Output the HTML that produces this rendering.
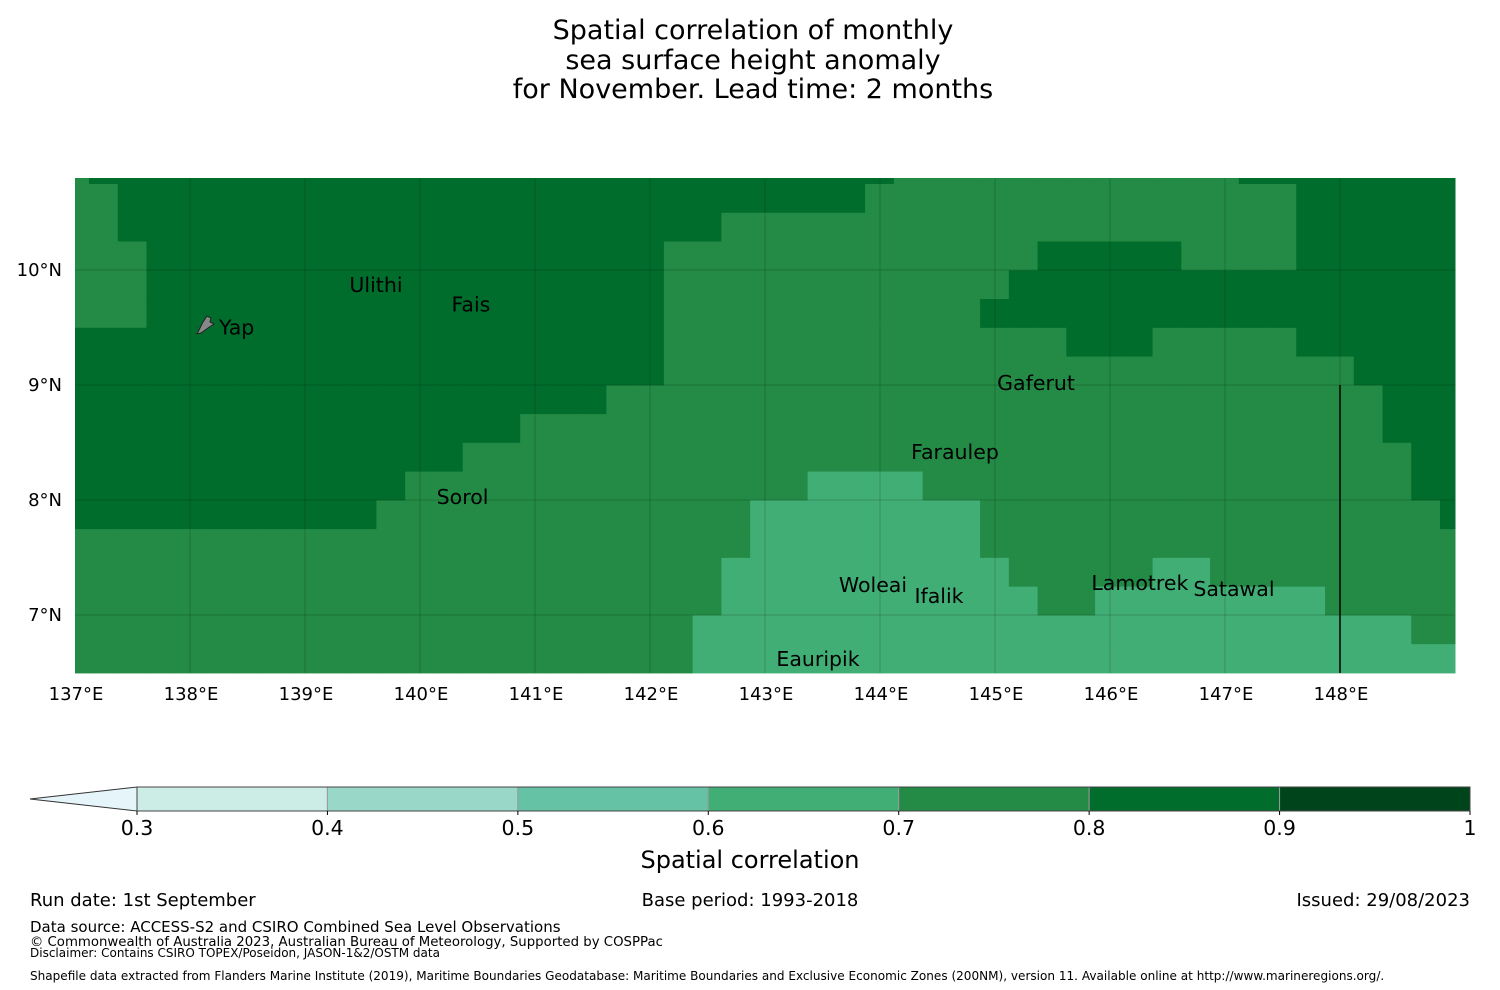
<!DOCTYPE html>
<html><head><meta charset="utf-8"><style>
html,body{margin:0;padding:0;background:#fff;}
svg{display:block;font-family:"DejaVu Sans","Liberation Sans",sans-serif;}
</style></head><body>
<svg id="chart" width="1500" height="990" viewBox="0 0 1500 990" xmlns="http://www.w3.org/2000/svg">
<g font-size="27" text-anchor="middle" fill="#000">
<text x="753" y="39">Spatial correlation of monthly</text>
<text x="753" y="69">sea surface height anomaly</text>
<text x="753" y="98">for November. Lead time: 2 months</text>
</g>
<g id="map"></g>
<g id="cbar"></g>
<text x="750" y="868" font-size="24" text-anchor="middle">Spatial correlation</text>
<g fill="#000">
<text x="30" y="906" font-size="18">Run date: 1st September</text>
<text x="750" y="906" font-size="18" text-anchor="middle">Base period: 1993-2018</text>
<text x="1470" y="906" font-size="18" text-anchor="end">Issued: 29/08/2023</text>
<text x="30" y="932" font-size="15">Data source: ACCESS-S2 and CSIRO Combined Sea Level Observations</text>
<text x="30" y="946" font-size="13.3">© Commonwealth of Australia 2023, Australian Bureau of Meteorology, Supported by COSPPac</text>
<text x="30" y="957" font-size="12">Disclaimer: Contains CSIRO TOPEX/Poseidon, JASON-1&amp;2/OSTM data</text>
<text x="30" y="980" font-size="12.05">Shapefile data extracted from Flanders Marine Institute (2019), Maritime Boundaries Geodatabase: Maritime Boundaries and Exclusive Economic Zones (200NM), version 11. Available online at http://www.marineregions.org/.</text>
</g>
</svg>
<script>
// run-length encoded rows: [value, count], top to bottom, 49 columns each
const rowRuns = [
 [[0.75,1],[0.85,28],[0.75,12],[0.85,8]],
 [[0.75,2],[0.85,26],[0.75,15],[0.85,6]],
 [[0.75,2],[0.85,21],[0.75,20],[0.85,6]],
 [[0.75,3],[0.85,18],[0.75,13],[0.85,5],[0.75,4],[0.85,6]],
 [[0.75,3],[0.85,18],[0.75,12],[0.85,16]],
 [[0.75,3],[0.85,18],[0.75,11],[0.85,17]],
 [[0.85,21],[0.75,14],[0.85,3],[0.75,5],[0.85,6]],
 [[0.85,21],[0.75,24],[0.85,4]],
 [[0.85,19],[0.75,27],[0.85,3]],
 [[0.85,16],[0.75,30],[0.85,3]],
 [[0.85,14],[0.75,33],[0.85,2]],
 [[0.85,12],[0.75,14],[0.65,4],[0.75,17],[0.85,2]],
 [[0.85,11],[0.75,13],[0.65,8],[0.75,16],[0.85,1]],
 [[0.75,24],[0.65,8],[0.75,17]],
 [[0.75,23],[0.65,10],[0.75,5],[0.65,2],[0.75,9]],
 [[0.75,23],[0.65,11],[0.75,2],[0.65,8],[0.75,5]],
 [[0.75,22],[0.65,25],[0.75,2]],
 [[0.75,22],[0.65,27]]
];
const lonTicks = [137,138,139,140,141,142,143,144,145,146,147,148];
const latTicks = [10,9,8,7];
const cbarLevels = [0.3,0.4,0.5,0.6,0.7,0.8,0.9,1];
const cbarColors = ['#ccece6','#99d8c9','#66c2a4','#41ae76','#238b45','#006d2c','#00441b'];
const islands = [
 {name:'Ulithi',lon:139.617,lat:9.87},{name:'Fais',lon:140.443,lat:9.70},
 {name:'Yap',lon:138.26,lat:9.50},{name:'Gaferut',lon:145.357,lat:9.017},
 {name:'Faraulep',lon:144.652,lat:8.417},{name:'Sorol',lon:140.37,lat:8.026},
 {name:'Woleai',lon:143.939,lat:7.261},{name:'Ifalik',lon:144.513,lat:7.165},
 {name:'Lamotrek',lon:146.26,lat:7.278},{name:'Satawal',lon:147.078,lat:7.226},
 {name:'Eauripik',lon:143.461,lat:6.617}
];
const NS='http://www.w3.org/2000/svg';
const X0=75,X1=1455,Y0=178,Y1=673;
const xLon=lon=>75+(lon-137)*115;
const yLat=lat=>270+(10-lat)*115;
const colEdge=c=>Math.max(X0,Math.min(X1,89+28.745*(c-1)));
const rowEdge=r=>Math.max(Y0,Math.min(Y1,184+28.76*(r-1)));
function color(v){for(let i=0;i<cbarColors.length;i++){if(v>=cbarLevels[i]&&v<cbarLevels[i+1])return cbarColors[i];}return v<0.3?'#e5f5f9':'#00441b';}
function mk(tag,attrs,parent){const e=document.createElementNS(NS,tag);for(const k in attrs)e.setAttribute(k,attrs[k]);parent.appendChild(e);return e;}
const map=document.getElementById('map');
const grid=rowRuns.map(r=>{const a=[];r.forEach(([v,n])=>{for(let i=0;i<n;i++)a.push(v);});return a;});
grid.forEach((row,r)=>{row.forEach((v,c)=>{
 const x=colEdge(c),x2=colEdge(c+1),y=rowEdge(r),y2=rowEdge(r+1);
 const el=mk('rect',{x:x,y:y,width:x2-x+0.5,height:y2-y+0.5,fill:color(v)},map);
 
 
});});
lonTicks.forEach(l=>{
 const x=xLon(l);
 if(l>137){
 const g=mk('line',{x1:x,x2:x,y1:Y0,y2:Y1,stroke:'rgba(0,0,0,0.18)','stroke-width':1},map);
 
 
 }
 const t=mk('text',{x:x+1,y:700,'font-size':18,'text-anchor':'middle'},map);
 t.textContent=l+'°E';
 
 
});
latTicks.forEach(l=>{
 const y=yLat(l);
 const g=mk('line',{x1:X0,x2:X1,y1:y,y2:y,stroke:'rgba(0,0,0,0.18)','stroke-width':1},map);
 
 
 const t=mk('text',{x:62,y:y+6,'font-size':18,'text-anchor':'end'},map);
 t.textContent=l+'°N';
 
 
});
const eez=mk('line',{x1:xLon(148),x2:xLon(148),y1:yLat(9),y2:Y1,stroke:'#000','stroke-width':1.5},map);


const yap=mk('path',{d:'M197,334 L203,322 L207,316 L211,318 L210,322 L214,324 L208,328 L201,333 Z',fill:'#888',stroke:'#222','stroke-width':1},map);


islands.forEach(is=>{
 const t=mk('text',{x:xLon(is.lon),y:yLat(is.lat)+7,'font-size':20.5,'text-anchor':'middle'},map);
 if(is.name==='Yap'){t.setAttribute('x',219);t.setAttribute('text-anchor','start');}
 t.textContent=is.name;
 
 
});
// colorbar
const cb=document.getElementById('cbar');
const CX0=137,CX1=1470,CY=787,CH=24;
const cbX=v=>CX0+(v-0.3)/0.7*(CX1-CX0);
const ext=mk('polygon',{points:`${CX0},${CY} ${CX0},${CY+CH} 30,${CY+CH/2}`,fill:'#e5f5f9',stroke:'#333','stroke-width':1},cb);


cbarColors.forEach((c,i)=>{
 const a=cbX(cbarLevels[i]),b=cbX(cbarLevels[i+1]);
 const r=mk('rect',{x:a,y:CY,width:b-a,height:CH,fill:c,stroke:'#999','stroke-width':1},cb);
 
 
});
mk('rect',{x:CX0,y:CY,width:CX1-CX0,height:CH,fill:'none',stroke:'#444','stroke-width':1},cb);
cbarLevels.forEach(v=>{
 const x=cbX(v);
 mk('line',{x1:x,x2:x,y1:CY+CH,y2:CY+CH+4,stroke:'#000'},cb);
 const t=mk('text',{x:x,y:835,'font-size':20.5,'text-anchor':'middle'},cb);
 t.textContent=v===1?'1':v.toFixed(1);
 
 
});
</script>
</body></html>
